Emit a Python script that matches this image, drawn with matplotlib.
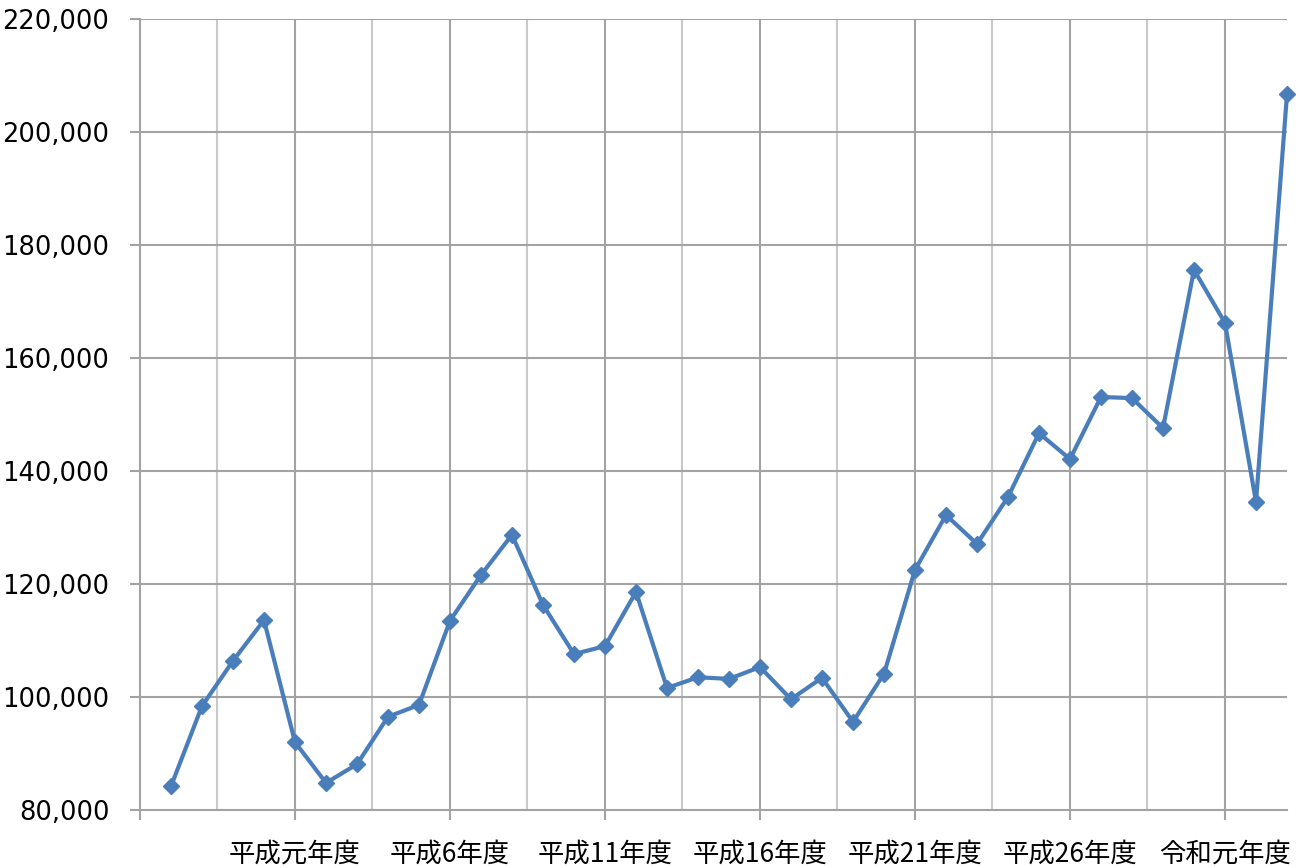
import numpy as np
import matplotlib

matplotlib.use("Agg")
import matplotlib.pyplot as plt
from matplotlib.ticker import FixedLocator, FuncFormatter

# fiscal years 1985 (昭和60) .. 2021 (令和3)
YEARS = list(range(1985, 2022))
VALUES = [
    84200, 98400, 106400, 113600, 92000, 84800, 88100, 96500, 98600, 113500,
    121600, 128700, 116300, 107600, 109000, 118600, 101600, 103500, 103200, 105300,
    99600, 103400, 95600, 104100, 122500, 132200, 127100, 135400, 146700, 142100,
    153100, 152900, 147600, 175600, 166200, 134500, 206700,
]
MAJOR_YEARS = [1984, 1989, 1994, 1999, 2004, 2009, 2014, 2019]
MAJOR_LABELS = ["", "平成元年度", "平成6年度", "平成11年度", "平成16年度",
                "平成21年度", "平成26年度", "令和元年度"]
Y_TICKS = [80000, 100000, 120000, 140000, 160000, 180000, 200000, 220000]

MAJOR_C = "#a3a3a3"
MINOR_C = "#c9c9c9"
LINE_C = "#4a7ebb"

fig = plt.figure(figsize=(13, 8.68), dpi=100)
ax = fig.add_axes([140 / 1300, 1 - 810 / 868, (1287 - 140) / 1300, (810 - 19) / 868])

minor_x = [y + 2.5 for y in MAJOR_YEARS]
for x in minor_x:
    ax.axvline(x, color=MINOR_C, lw=1.5, zorder=0)
for x in MAJOR_YEARS[1:]:
    ax.axvline(x, color=MAJOR_C, lw=1.5, zorder=0)
for y in Y_TICKS[1:]:
    ax.axhline(y, color=MAJOR_C, lw=1.5, zorder=0)

ax.plot(YEARS, VALUES, color=LINE_C, lw=3, marker="D", ms=8.5,
        markeredgecolor=LINE_C, zorder=3, clip_on=False)

ax.set_xlim(1984, 2021)
ax.set_ylim(80000, 220000)
ax.xaxis.set_major_locator(FixedLocator(MAJOR_YEARS))
ax.set_xticklabels(MAJOR_LABELS, family=["Noto Sans CJK JP", "DejaVu Sans"], fontsize=19)
ax.yaxis.set_major_locator(FixedLocator(Y_TICKS))
ax.yaxis.set_major_formatter(FuncFormatter(lambda v, p: f"{int(v):,}"))
ax.tick_params(axis="y", labelsize=18.5, length=7, width=1.5, color=MAJOR_C, pad=15)
ax.tick_params(axis="x", length=7, width=1.5, color=MAJOR_C, pad=15)

for s in ["top", "right"]:
    ax.spines[s].set_visible(False)
for s in ["left", "bottom"]:
    ax.spines[s].set_color(MAJOR_C)
    ax.spines[s].set_linewidth(1.5)

plt.savefig("out.png", dpi=100)
